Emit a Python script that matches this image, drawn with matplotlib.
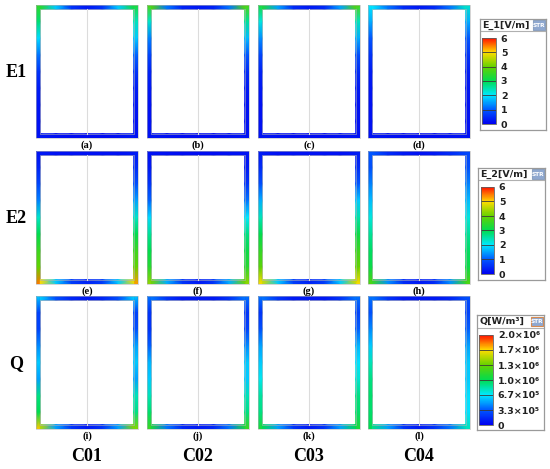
import numpy as np
import matplotlib
matplotlib.use('Agg')
import matplotlib.pyplot as plt
from matplotlib.colors import LinearSegmentedColormap, Normalize
from matplotlib.cm import ScalarMappable
from matplotlib.patches import Rectangle

# ---------------- data ----------------
row_labels = ['E1', 'E2', 'Q']
col_labels = ['C01', 'C02', 'C03', 'C04']
panel_labels = [['(a)', '(b)', '(c)', '(d)'],
                ['(e)', '(f)', '(g)', '(h)'],
                ['(i)', '(j)', '(k)', '(l)']]

# field along each side of each frame: left/right sampled top->bottom, top/bottom left->right
# Row E1 [V/m]
E1_left = [[3.5, 2.8, 1.9, 1.2, 0.6, 0.35, 0.25, 0.2, 0.2],
           [3.8, 2.3, 1.3, 0.8, 0.4, 0.3, 0.2, 0.2, 0.2],
           [3.3, 2.2, 1.4, 0.8, 0.4, 0.3, 0.2, 0.2, 0.2],
           [2.0, 1.6, 1.0, 0.6, 0.35, 0.25, 0.2, 0.2, 0.2]]
E1_right = [[3.3, 2.4, 1.8, 1.1, 0.6, 0.35, 0.25, 0.2, 0.2],
            [3.8, 2.6, 1.7, 1.0, 0.5, 0.3, 0.2, 0.2, 0.2],
            [3.8, 2.4, 1.6, 0.9, 0.5, 0.3, 0.2, 0.2, 0.2],
            [2.3, 1.6, 1.0, 0.6, 0.35, 0.25, 0.2, 0.2, 0.2]]
E1_top = [[3.4, 1.8, 0.6, 0.3, 0.6, 1.8, 3.2],
          [3.8, 1.2, 0.4, 0.3, 0.4, 1.2, 3.8],
          [3.3, 1.5, 0.5, 0.3, 0.5, 1.5, 3.8],
          [2.0, 1.2, 0.5, 0.3, 0.5, 1.2, 2.3]]
E1_bottom = [[0.3, 0.2, 0.15, 0.15, 0.15, 0.2, 0.3],
             [0.25, 0.2, 0.15, 0.15, 0.15, 0.2, 0.25],
             [0.25, 0.2, 0.15, 0.15, 0.15, 0.2, 0.25],
             [0.25, 0.2, 0.15, 0.15, 0.15, 0.2, 0.25]]
# Row E2 [V/m]
E2_left = [[0.2, 0.4, 0.8, 1.3, 2.3, 3.0, 3.6, 4.0, 5.5],
           [0.2, 0.3, 0.6, 1.1, 1.9, 2.6, 3.0, 3.4, 4.3],
           [0.3, 0.5, 0.9, 1.6, 2.4, 3.0, 3.5, 3.9, 5.0],
           [1.0, 0.9, 1.3, 1.7, 2.2, 2.6, 2.9, 3.1, 3.8]]
E2_right = [[0.3, 0.5, 0.9, 1.5, 2.3, 3.0, 3.6, 4.0, 5.3],
            [0.2, 0.3, 0.6, 1.2, 2.0, 2.7, 3.1, 3.4, 4.3],
            [0.3, 0.5, 1.0, 1.8, 2.5, 3.1, 3.6, 4.0, 5.0],
            [0.8, 0.9, 1.3, 1.7, 2.2, 2.6, 2.9, 3.1, 3.8]]
E2_top = [[0.3, 0.2, 0.2, 0.2, 0.2, 0.2, 0.3],
          [0.2, 0.2, 0.15, 0.15, 0.15, 0.2, 0.2],
          [0.3, 0.2, 0.2, 0.2, 0.2, 0.2, 0.3],
          [1.0, 0.5, 0.3, 0.2, 0.3, 0.5, 0.8]]
E2_bottom = [[5.0, 1.8, 0.7, 0.4, 0.7, 1.8, 4.9],
             [4.1, 1.6, 0.6, 0.3, 0.6, 1.6, 4.1],
             [4.7, 1.8, 0.7, 0.4, 0.7, 1.8, 4.7],
             [3.6, 1.4, 0.5, 0.3, 0.5, 1.4, 3.6]]
# Row Q [x10^6 W/m^3]
Q_left = [[0.6, 0.25, 0.25, 0.45, 0.6, 0.5, 0.9, 1.0, 1.7],
          [0.4, 0.2, 0.2, 0.35, 0.55, 0.6, 0.8, 0.95, 1.2],
          [0.4, 0.2, 0.3, 0.5, 0.6, 0.7, 0.85, 0.9, 1.1],
          [0.4, 0.3, 0.45, 0.6, 0.8, 0.9, 0.95, 0.95, 1.0]]
Q_right = [[0.6, 0.25, 0.3, 0.5, 0.6, 0.5, 0.8, 0.9, 1.4],
           [0.4, 0.2, 0.25, 0.45, 0.6, 0.6, 0.8, 0.9, 1.2],
           [0.4, 0.25, 0.35, 0.55, 0.65, 0.75, 0.9, 0.95, 1.1],
           [0.3, 0.25, 0.35, 0.5, 0.6, 0.6, 0.65, 0.65, 0.8]]
Q_top = [[0.6, 0.3, 0.15, 0.1, 0.15, 0.3, 0.6],
         [0.4, 0.2, 0.1, 0.1, 0.1, 0.2, 0.4],
         [0.4, 0.2, 0.1, 0.1, 0.1, 0.2, 0.4],
         [0.4, 0.2, 0.1, 0.1, 0.1, 0.15, 0.3]]
Q_bottom = [[1.5, 0.5, 0.2, 0.1, 0.2, 0.5, 1.4],
            [1.1, 0.4, 0.15, 0.1, 0.15, 0.4, 1.1],
            [1.0, 0.5, 0.2, 0.1, 0.2, 0.5, 1.0],
            [0.9, 0.5, 0.2, 0.1, 0.2, 0.4, 0.8]]

cbar_titles = ['E_1[V/m]', 'E_2[V/m]', 'Q[W/m³]']
cbar_vmax = [6.0, 6.0, 2.0]
E_ticks = [0, 1, 2, 3, 4, 5, 6]
E_ticklabels = ['0', '1', '2', '3', '4', '5', '6']
Q_ticks = [0, 0.333, 0.667, 1.0, 1.333, 1.667, 2.0]
Q_ticklabels = ['0', '3.3×10⁵', '6.7×10⁵', '1.0×10⁶', '1.3×10⁶', '1.7×10⁶', '2.0×10⁶']

# ---------------- style / layout ----------------
cmap_colors = ['#0000f0', '#0058ff', '#00e8ff', '#00dc50', '#64d200', '#ffdc00', '#ff1000']
cmap = LinearSegmentedColormap.from_list('cst', cmap_colors)

FW, FH = 550, 469
fig = plt.figure(figsize=(FW / 100, FH / 100), dpi=100)
fig.patch.set_facecolor('white')

def px_axes(x, y, w, h, **kw):
    return fig.add_axes([x / FW, 1 - (y + h) / FH, w / FW, h / FH], **kw)

def px_text(x, y, s, **kw):
    fig.text(x / FW, 1 - y / FH, s, **kw)

col_x = [36, 147, 258, 368]
row_y = [5, 151, 296]
panel_w, panel_h, border = 102, 133, 4.3

rows_data = [(E1_left, E1_right, E1_top, E1_bottom),
             (E2_left, E2_right, E2_top, E2_bottom),
             (Q_left, Q_right, Q_top, Q_bottom)]

serif = 'Liberation Serif'


def vstrip(ax, vals, x0, x1, y0, y1, norm):
    v = np.asarray(vals, float)
    ys = np.linspace(y0, y1, len(v))
    X, Y = np.meshgrid([x0, x1], ys)
    ax.pcolormesh(X, Y, np.column_stack([v, v]), shading='gouraud', cmap=cmap, norm=norm)


def hstrip(ax, vals, x0, x1, y0, y1, norm):
    v = np.asarray(vals, float)
    xs = np.linspace(x0, x1, len(v))
    X, Y = np.meshgrid(xs, [y0, y1])
    ax.pcolormesh(X, Y, np.vstack([v, v]), shading='gouraud', cmap=cmap, norm=norm)


for r in range(3):
    norm = Normalize(0, cbar_vmax[r])
    L, R, T, B = rows_data[r]
    for c in range(4):
        ax = px_axes(col_x[c], row_y[r], panel_w, panel_h)
        W, H, t = panel_w, panel_h, border
        vstrip(ax, L[c], 0, t, 0, H, norm)
        vstrip(ax, R[c], W - t, W, 0, H, norm)
        hstrip(ax, T[c], t, W - t, 0, t, norm)
        hstrip(ax, B[c], t, W - t, H - t, H, norm)
        ax.plot([W / 2, W / 2], [t, H - t], color='#dcdcdc', lw=0.8)
        ax.add_patch(Rectangle((0.2, 0.2), W - 0.4, H - 0.4, fill=False, ec='#b4b4b4', lw=0.4, clip_on=False))
        ax.add_patch(Rectangle((t, t), W - 2 * t, H - 2 * t, fill=False, ec='#b4b4b4', lw=0.4))
        ax.set_xlim(0, W)
        ax.set_ylim(H, 0)
        ax.axis('off')
        px_text(col_x[c] + panel_w / 2, row_y[r] + panel_h + 7, panel_labels[r][c],
                family=serif, weight='bold', fontsize=7.5, ha='center', va='center')
    px_text(16, row_y[r] + panel_h / 2 + 1, row_labels[r], family=serif, weight='bold',
            fontsize=13, ha='center', va='center')

for c in range(4):
    px_text(col_x[c] + panel_w / 2, 456, col_labels[c], family=serif, weight='bold',
            fontsize=13, ha='center', va='center')

# ---------------- colour bars ----------------
boxes = [(480, 19, 66, 111), (478, 168, 67, 112), (477, 315, 67, 115)]
bars = [(482, 38, 14, 86), (481, 187, 13, 87), (479, 335, 14, 90)]
ticks_all = [(E_ticks, E_ticklabels), (E_ticks, E_ticklabels), (Q_ticks, Q_ticklabels)]
icon_edge = ['#8aa0c0', '#8aa0c0', '#d88a50']

for k in range(3):
    bx, by, bw, bh = boxes[k]
    bax = px_axes(bx, by, bw, bh)
    bax.set_xlim(0, bw)
    bax.set_ylim(bh, 0)
    bax.set_xticks([])
    bax.set_yticks([])
    for s in bax.spines.values():
        s.set_color('#9a9a9a')
        s.set_linewidth(0.9)
    bax.axhline(12.5, color='#b0b0b0', lw=0.8)
    bax.text(2, 6.5, cbar_titles[k], family='DejaVu Sans', weight='bold', fontsize=6.8,
             ha='left', va='center', color='#202020')
    bax.add_patch(Rectangle((bw - 13, 1.5), 12, 9.5, fc='#8fa8d0', ec=icon_edge[k], lw=0.8))
    bax.text(bw - 7, 6.3, 'STR', fontsize=4.2, weight='bold', color='white',
             ha='center', va='center', family='DejaVu Sans')

    cx, cy, cw, ch = bars[k]
    cax = px_axes(cx, cy, cw, ch)
    sm = ScalarMappable(norm=Normalize(0, cbar_vmax[k]), cmap=cmap)
    cb = fig.colorbar(sm, cax=cax)
    tv, tl = ticks_all[k]
    cb.set_ticks(tv)
    cb.set_ticklabels(tl)
    cax.tick_params(length=0, pad=3.5, labelsize=6.8)
    for lab in cax.get_yticklabels():
        lab.set_fontweight('bold')
        lab.set_family('DejaVu Sans')
        lab.set_color('#202020')
    for v in tv[1:-1]:
        cax.axhline(v, color='#3a3a3a', lw=0.6)
    cb.outline.set_edgecolor('#606060')
    cb.outline.set_linewidth(0.6)

fig.savefig('out.png', dpi=100, facecolor='white')
